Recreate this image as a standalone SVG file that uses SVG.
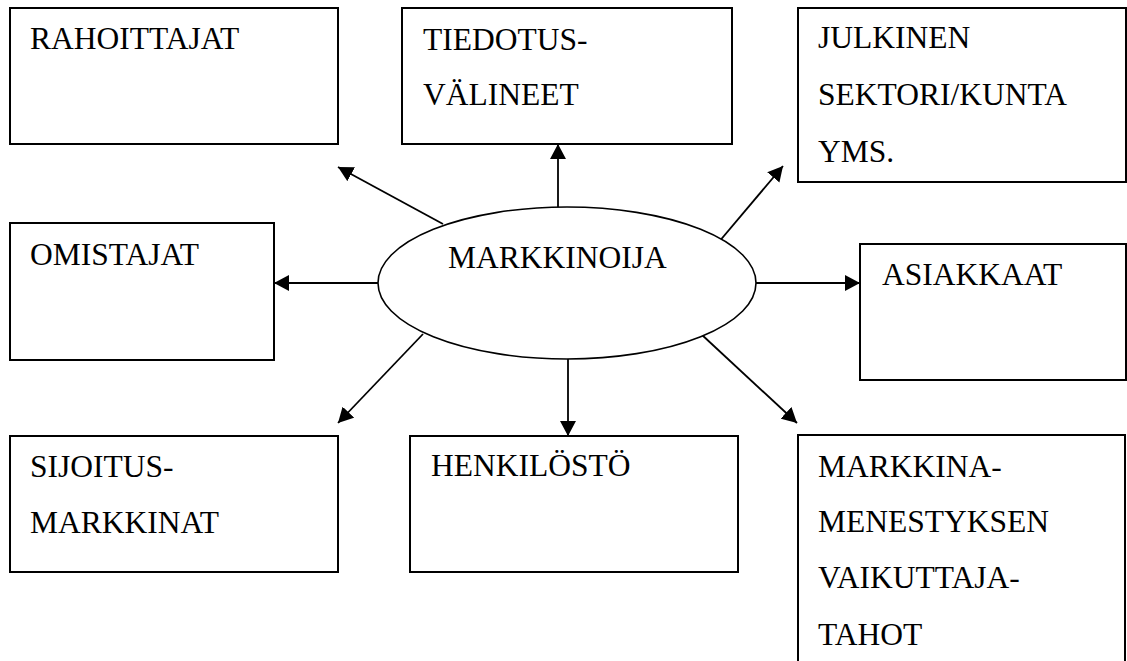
<svg xmlns="http://www.w3.org/2000/svg" width="1127" height="661" viewBox="0 0 1127 661">
<style>
  .box { fill: #ffffff; stroke: #000000; stroke-width: 2; }
  .ell { fill: #ffffff; stroke: #000000; stroke-width: 1.6; }
  .lbl { font-family: 'Liberation Serif', 'Times New Roman', Times, 'DejaVu Serif', serif; font-size: 31.5px; fill: #000000; }
  .conn { stroke: #000000; stroke-width: 1.8; fill: none; marker-end: url(#ah); }
</style>
<defs>
  <marker id="ah" viewBox="0 0 15 16" refX="15" refY="8" markerWidth="15" markerHeight="16" markerUnits="userSpaceOnUse" orient="auto">
    <path d="M0,0 L15,8 L0,16 Z" fill="#000000"/>
  </marker>
</defs>
<rect width="1127" height="661" fill="#ffffff"/>

<g id="rahoittajat">
  <rect class="box" x="10" y="8" width="328" height="136"/>
  <text class="lbl" font-family="Liberation Serif, serif" x="30" y="49">RAHOITTAJAT</text>
</g>
<g id="tiedotusvalineet">
  <rect class="box" x="402" y="8" width="330" height="136"/>
  <text class="lbl" x="423" y="50">TIEDOTUS-</text>
  <text class="lbl" x="423" y="105">VÄLINEET</text>
</g>
<g id="julkinen">
  <rect class="box" x="798" y="8" width="328" height="174"/>
  <text class="lbl" x="818" y="48">JULKINEN</text>
  <text class="lbl" x="818" y="105">SEKTORI/KUNTA</text>
  <text class="lbl" x="818" y="162">YMS.</text>
</g>
<g id="omistajat">
  <rect class="box" x="10" y="223" width="264" height="137"/>
  <text class="lbl" x="30" y="265">OMISTAJAT</text>
</g>
<g id="asiakkaat">
  <rect class="box" x="860" y="244" width="266" height="136"/>
  <text class="lbl" x="882" y="285">ASIAKKAAT</text>
</g>
<g id="sijoitusmarkkinat">
  <rect class="box" x="10" y="436" width="328" height="136"/>
  <text class="lbl" x="30" y="477">SIJOITUS-</text>
  <text class="lbl" x="30" y="533">MARKKINAT</text>
</g>
<g id="henkilosto">
  <rect class="box" x="410" y="436" width="328" height="136"/>
  <text class="lbl" x="431" y="476">HENKILÖSTÖ</text>
</g>
<g id="markkinamenestys">
  <path class="box" d="M798,665 L798,435 L1125,435 L1125,665"/>
  <text class="lbl" x="818" y="477">MARKKINA-</text>
  <text class="lbl" x="818" y="532">MENESTYKSEN</text>
  <text class="lbl" x="818" y="588">VAIKUTTAJA-</text>
  <text class="lbl" x="818" y="645">TAHOT</text>
</g>

<g id="connectors">
  <line class="conn" x1="443" y1="224" x2="338" y2="167"/>
  <line class="conn" x1="558" y1="207" x2="558" y2="144"/>
  <line class="conn" x1="718" y1="243" x2="783" y2="166"/>
  <line class="conn" x1="378" y1="283" x2="274" y2="283"/>
  <line class="conn" x1="756" y1="283" x2="860" y2="283"/>
  <line class="conn" x1="423" y1="334" x2="338" y2="423"/>
  <line class="conn" x1="568" y1="359" x2="568" y2="436"/>
  <line class="conn" x1="701" y1="334" x2="797" y2="423"/>
</g>

<g id="markkinoija">
  <ellipse class="ell" cx="567" cy="283" rx="189" ry="76"/>
  <text class="lbl" x="448" y="268">MARKKINOIJA</text>
</g>
</svg>
